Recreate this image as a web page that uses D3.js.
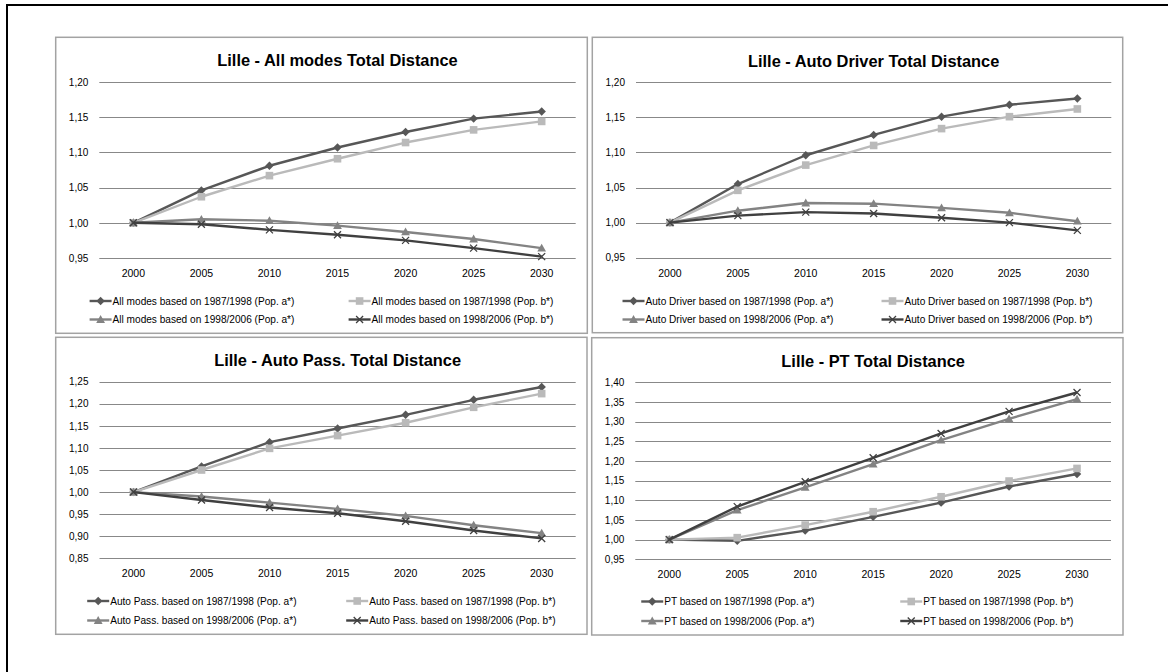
<!DOCTYPE html>
<html>
<head>
<meta charset="utf-8">
<script src="https://cdn.jsdelivr.net/npm/d3@7"></script>
<style>
  html, body { margin: 0; padding: 0; background: #ffffff; }
  svg { display: block; }
  text { font-family: "Liberation Sans", Arial, sans-serif; fill: #000; }
</style>
</head>
<body>
<svg id="chart" width="1168" height="672"></svg>
<script>
// ---------- DATA ----------
const years = ["2000", "2005", "2010", "2015", "2020", "2025", "2030"];

const titles = [
  "Lille - All modes Total Distance",
  "Lille - Auto Driver Total Distance",
  "Lille - Auto Pass. Total Distance",
  "Lille - PT Total Distance"
];

const modeNames = ["All modes", "Auto Driver", "Auto Pass.", "PT"];
const seriesSuffixes = [
  "based on 1987/1998 (Pop. a*)",
  "based on 1987/1998 (Pop. b*)",
  "based on 1998/2006 (Pop. a*)",
  "based on 1998/2006 (Pop. b*)"
];

// All modes
const allModes_8798_a = [1.000, 1.046, 1.081, 1.107, 1.129, 1.148, 1.158];
const allModes_8798_b = [1.000, 1.037, 1.067, 1.091, 1.114, 1.132, 1.144];
const allModes_9806_a = [1.000, 1.005, 1.003, 0.996, 0.987, 0.977, 0.964];
const allModes_9806_b = [1.000, 0.998, 0.990, 0.983, 0.975, 0.964, 0.952];

// Auto Driver
const autoDriver_8798_a = [1.000, 1.055, 1.096, 1.125, 1.151, 1.168, 1.177];
const autoDriver_8798_b = [1.000, 1.046, 1.082, 1.110, 1.134, 1.151, 1.162];
const autoDriver_9806_a = [1.000, 1.017, 1.028, 1.027, 1.021, 1.014, 1.002];
const autoDriver_9806_b = [1.000, 1.010, 1.015, 1.013, 1.007, 1.000, 0.989];

// Auto Pass.
const autoPass_8798_a = [1.000, 1.058, 1.113, 1.144, 1.175, 1.209, 1.238];
const autoPass_8798_b = [1.000, 1.050, 1.099, 1.128, 1.157, 1.192, 1.223];
const autoPass_9806_a = [1.000, 0.990, 0.976, 0.962, 0.946, 0.925, 0.907];
const autoPass_9806_b = [1.000, 0.982, 0.965, 0.952, 0.934, 0.913, 0.895];

// PT
const pt_8798_a = [1.000, 0.997, 1.023, 1.058, 1.094, 1.135, 1.167];
const pt_8798_b = [1.000, 1.005, 1.037, 1.071, 1.109, 1.149, 1.181];
const pt_9806_a = [1.000, 1.075, 1.133, 1.192, 1.253, 1.307, 1.357];
const pt_9806_b = [1.000, 1.084, 1.147, 1.208, 1.270, 1.326, 1.374];

// y-axis tick values
const yTicks12 = [0.95, 1.00, 1.05, 1.10, 1.15, 1.20];
const yTicks3 = [0.85, 0.90, 0.95, 1.00, 1.05, 1.10, 1.15, 1.20, 1.25];
const yTicks4 = [0.95, 1.00, 1.05, 1.10, 1.15, 1.20, 1.25, 1.30, 1.35, 1.40];

// ---------- STYLE / LAYOUT ----------
const seriesColors = ["#575757", "#bababa", "#838383", "#404040"];
const seriesMarkers = ["diamond", "square", "triangle", "x"];

const panels = [
  { data: [allModes_8798_a, allModes_8798_b, allModes_9806_a, allModes_9806_b], ticks: yTicks12,
    box: [55.7, 37.3, 587.3, 333.3], plot: [99.3, 575.7, 82, 258], titleY: 60, xLabY: 273, legY: [301, 319.5] },
  { data: [autoDriver_8798_a, autoDriver_8798_b, autoDriver_9806_a, autoDriver_9806_b], ticks: yTicks12,
    box: [592.3, 37.3, 1122.7, 332.7], plot: [636, 1111.3, 82.3, 257.7], titleY: 61.5, xLabY: 273, legY: [301, 319.5] },
  { data: [autoPass_8798_a, autoPass_8798_b, autoPass_9806_a, autoPass_9806_b], ticks: yTicks3,
    box: [55.7, 337.3, 587, 634.3], plot: [99.5, 575.7, 381.7, 558.3], titleY: 360, xLabY: 573.5, legY: [601, 620.5] },
  { data: [pt_8798_a, pt_8798_b, pt_9806_a, pt_9806_b], ticks: yTicks4,
    box: [591.7, 337.7, 1123, 635], plot: [635.3, 1111, 382.3, 559.3], titleY: 361, xLabY: 574.5, legY: [601.5, 621] }
];

const svg = d3.select("#chart");
const fmt = v => d3.format(".2f")(v).replace(".", ",");

// outer frame (left & top edges visible)
svg.append("path")
  .attr("d", "M7,672 L7,5 L1168,5")
  .attr("fill", "none").attr("stroke", "#000").attr("stroke-width", 2);

function markerPath(type) {
  if (type === "diamond") return "M0,-4.2L4.2,0L0,4.2L-4.2,0Z";
  if (type === "square") return "M-3.8,-3.8H3.8V3.8H-3.8Z";
  if (type === "triangle") return "M0,-4.4L4.4,3.4H-4.4Z";
  return "M-3.5,-3.5L3.5,3.5M-3.5,3.5L3.5,-3.5";
}
function drawMarker(g, type, color, x, y) {
  const p = g.append("path").attr("d", markerPath(type)).attr("transform", `translate(${x},${y})`);
  if (type === "x") p.attr("fill", "none").attr("stroke", color).attr("stroke-width", 1.3);
  else p.attr("fill", color).attr("stroke", "none");
}

panels.forEach((P, pi) => {
  const g = svg.append("g");
  const [bx0, by0, bx1, by1] = P.box;
  g.append("rect").attr("x", bx0).attr("y", by0).attr("width", bx1 - bx0).attr("height", by1 - by0)
    .attr("fill", "#fff").attr("stroke", "#a3a3a3").attr("stroke-width", 1.5);

  const [pl, pr, pt, pb] = P.plot;
  const x = d3.scaleBand().domain(years).range([pl, pr]);
  const y = d3.scaleLinear().domain([P.ticks[0], P.ticks[P.ticks.length - 1]]).range([pb, pt]);

  // gridlines
  g.append("g").selectAll("line").data(P.ticks).join("line")
    .attr("x1", pl).attr("x2", pr)
    .attr("y1", d => Math.round(y(d)) + 0.5).attr("y2", d => Math.round(y(d)) + 0.5)
    .attr("stroke", "#888").attr("stroke-width", 1);

  // y axis labels
  const yAxis = d3.axisLeft(y).tickValues(P.ticks).tickFormat(fmt).tickSize(0).tickPadding(11);
  const ya = g.append("g").attr("transform", `translate(${pl},0)`).call(yAxis);
  ya.select(".domain").remove();
  ya.selectAll("text").attr("font-size", 10).attr("font-family", null).attr("fill", "#000");

  // x axis labels
  const xAxis = d3.axisBottom(x).tickSize(0).tickPadding(0);
  const xa = g.append("g").attr("transform", `translate(0,${P.xLabY})`).call(xAxis);
  xa.select(".domain").remove();
  xa.selectAll("text").attr("font-size", 10.5).attr("font-family", null).attr("fill", "#000")
    .attr("dy", "0.35em");

  // title
  g.append("text").attr("x", (pl + pr) / 2).attr("y", P.titleY).attr("dy", "0.35em")
    .attr("text-anchor", "middle").attr("font-weight", "bold").attr("font-size", 16.4)
    .text(titles[pi]);

  // series
  const line = d3.line().x((d, i) => x(years[i]) + x.bandwidth() / 2).y(d => y(d));
  P.data.forEach((vals, si) => {
    g.append("path").datum(vals).attr("d", line).attr("fill", "none")
      .attr("stroke", seriesColors[si]).attr("stroke-width", 2.4).attr("stroke-linejoin", "round");
    vals.forEach((v, i) => drawMarker(g, seriesMarkers[si], seriesColors[si], x(years[i]) + x.bandwidth() / 2, y(v)));
  });

  // legend
  const leg = g.append("g");
  const legFont = 10.1;
  const items = seriesSuffixes.map((s, si) => ({ label: modeNames[pi] + " " + s, si }));
  const tmp = leg.append("text").attr("font-size", legFont).text(items[1].label);
  const w2 = tmp.node().getComputedTextLength();
  tmp.remove();
  const colGap = 259, lineLen = 22, txtOff = 23;
  const total = colGap + txtOff + w2;
  const cx = (bx0 + bx1) / 2;
  const lx0 = cx - total / 2;
  items.forEach((it, k) => {
    const col = k % 2, row = Math.floor(k / 2);
    const lx = lx0 + col * colGap, ly = P.legY[row];
    leg.append("line").attr("x1", lx).attr("x2", lx + lineLen).attr("y1", ly).attr("y2", ly)
      .attr("stroke", seriesColors[it.si]).attr("stroke-width", 2.4);
    drawMarker(leg, seriesMarkers[it.si], seriesColors[it.si], lx + lineLen / 2, ly);
    leg.append("text").attr("x", lx + txtOff).attr("y", ly).attr("dy", "0.35em")
      .attr("font-size", legFont).text(it.label);
  });
});
</script>
</body>
</html>
